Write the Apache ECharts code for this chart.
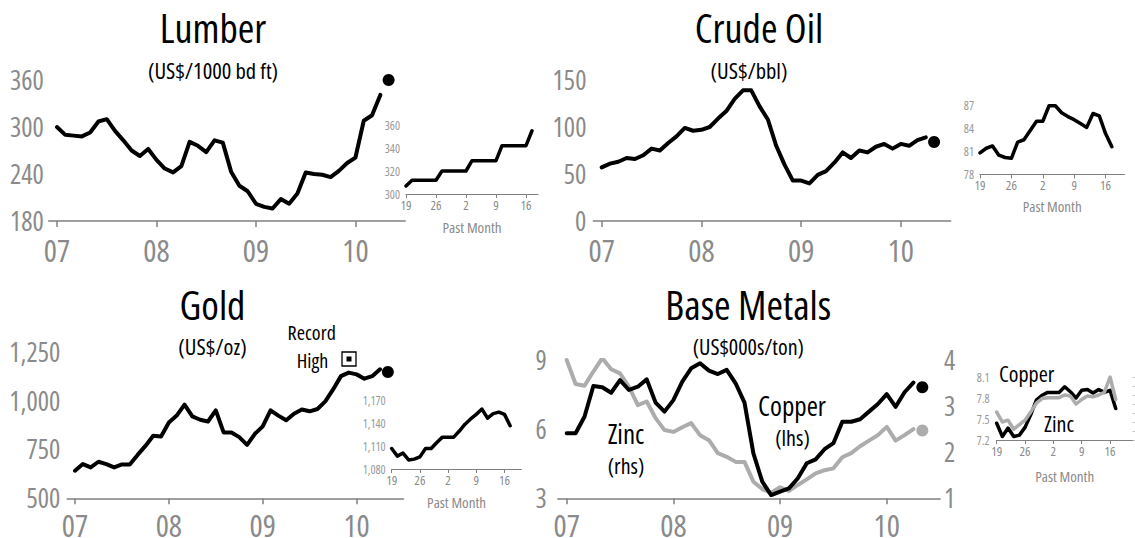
<!DOCTYPE html>
<html><head><meta charset="utf-8">
<script src="https://cdn.jsdelivr.net/npm/echarts@6/dist/echarts.min.js"></script>
<style>html,body{margin:0;padding:0;background:#fff}#c{width:1135px;height:538px}</style>
</head><body><div id="c"></div>
<script>
// ---- pick an installed condensed face ----
function pickCondensed() {
  const c = document.createElement('canvas').getContext('2d');
  const s = 'Lumber Crude Oil 0123456789';
  const fams = ["'Liberation Sans Narrow'", "'Noto Sans'", "'Open Sans'", "Roboto", "'DejaVu Sans'", "'Liberation Sans'"];
  const stretches = ['condensed', 'semi-condensed', 'extra-condensed'];
  let best = null;
  for (const f of fams) {
    c.font = '40px ' + f; const w0 = c.measureText(s).width;
    for (const st of stretches) {
      c.font = st + ' 40px ' + f; const w = c.measureText(s).width;
      const r = w / w0;
      if (r < 0.95) { const score = Math.abs(r - 0.78); if (!best || score < best.score) best = {f: f, st: st, score: score}; }
    }
  }
  return best;
}
const picked = pickCondensed();
const FONT = picked ? picked.f + ", 'Liberation Sans', sans-serif" : "'Liberation Sans', sans-serif";
const STRETCH = picked ? picked.st : 'normal';
const SZ = picked ? 1 : 0.85;
if (picked) { const st = document.createElement('style'); st.textContent = '#c text{font-stretch:' + STRETCH + ' !important}'; document.head.appendChild(st); }

const GRAY = '#8a8a8a';
const ZINC_GRAY = '#acacac';

// ---- categories ----
function monthRange(y, m, n) { const out = []; for (let i = 0; i < n; i++) { const mm = (m - 1 + i) % 12 + 1, yy = y + Math.floor((m - 1 + i) / 12); out.push(yy + '-' + String(mm).padStart(2, '0')); } return out; }
const months = monthRange(2006, 12, 44); // Dec 2006 .. Jul 2010
const pastDays = ['Mar 19','Mar 22','Mar 23','Mar 24','Mar 25','Mar 26','Mar 29','Mar 30','Mar 31','Apr 1','Apr 2',
  'Apr 5','Apr 6','Apr 7','Apr 8','Apr 9','Apr 12','Apr 13','Apr 14','Apr 15','Apr 16','Apr 19','Apr 20','Apr 21','Apr 22'];

// ---- monthly series, Jan 2007 .. Apr 2010 ----
const lumber = [300,290,289,288,293,307,310,295,283,270,263,272, 258,247,242,250,281,276,268,283,280,243,225,218,
  202,198,196,208,202,215,242,240,239,236,244,254, 261,308,315,341];
const crude = [57,61,63,67,66,70,77,75,83,90,99,96, 97,100,109,117,130,139,139,122,108,80,60,43,
  43,40,49,53,62,73,67,75,73,79,82,77, 82,80,86,89];
const gold = [641,675,658,687,675,658,673,673,722,768,820,816, 888,923,979,919,902,893,950,837,837,813,773,830,
  868,950,923,899,933,954,945,957,996,1057,1125,1143, 1134,1112,1125,1160];
const copper = [5.82,5.82,6.54,7.87,7.82,7.58,8.13,7.70,7.84,8.16,7.15,6.76, 7.26,8.06,8.64,8.86,8.54,8.39,8.57,7.99,7.15,4.95,3.72,3.14,
  3.29,3.43,3.87,4.52,4.69,5.13,5.39,6.32,6.32,6.43,6.76,7.09, 7.52,6.97,7.60,8.02];
const zinc = [4.00,3.48,3.44,3.75,4.04,3.80,3.71,3.42,3.02,3.10,2.74,2.48, 2.44,2.54,2.63,2.37,2.26,1.98,1.90,1.79,1.79,1.36,1.20,1.12,
  1.24,1.16,1.29,1.41,1.54,1.61,1.65,1.89,1.98,2.13,2.25,2.37, 2.55,2.25,2.37,2.50];

// latest values (May 2010)
const latestMonth = '2010-05';
const lumberLatest = 360, crudeLatest = 84, goldLatest = 1146, copperLatest = 7.82, zincLatest = 2.47;

// ---- past month (business days from Mar 19) ----
const lumberDaily = [307,312,312,312,312,312,320,320,320,320,320,329,329,329,329,329,342,342,342,342,342,355];
const crudeDaily = [80.8,81.4,81.7,80.5,80.2,80.1,82.2,82.5,83.7,84.9,84.9,86.9,86.9,86.0,85.5,85.1,84.6,84.1,85.9,85.6,83.3,81.6];
const goldDaily = [1107,1097,1101,1092,1093,1096,1107,1107,1115,1122,1122,1122,1130,1139,1146,1152,1159,1147,1153,1155,1152,1137];
const copperDaily = [7.44,7.25,7.37,7.25,7.27,7.38,7.56,7.77,7.84,7.88,7.88,7.88,7.96,7.89,7.80,7.91,7.92,7.87,7.92,7.88,7.91,7.65];
const zincDaily = [2.31,2.20,2.22,2.12,2.17,2.22,2.31,2.41,2.46,2.47,2.47,2.47,2.50,2.49,2.40,2.45,2.49,2.48,2.50,2.53,2.70,2.45];

// ---- tick labels ----
const lumberTicks = {min:180, max:360, interval:60};
const crudeTicks = {min:0, max:150, interval:50};
const goldTicks = {min:500, max:1250, interval:250};
const copperTicks = {min:3, max:9, interval:3};
const zincTicks = {min:1, max:4, interval:1};
const lumberDailyTicks = {min:300, max:360, interval:20};
const crudeDailyTicks = {min:78, max:87, interval:3};
const goldDailyTicks = {min:1080, max:1170, interval:30};
const copperDailyTicks = {min:7.2, max:8.1, interval:0.3};
const zincDailyTicks = {min:2.0, max:2.7, interval:0.1};

// ---- helpers ----
const grids = [
  {left:48.7, top:80, width:356.5, height:141},
  {left:406, top:125, width:132, height:69},
  {left:593.4, top:80, width:357.3, height:141},
  {left:980, top:105, width:144.4, height:69.5},
  {left:67.2, top:351.7, width:336.3, height:146.6},
  {left:391.7, top:400.7, width:129.7, height:68.3},
  {left:557.8, top:360, width:382.3, height:138.3},
  {left:996.7, top:377, width:136, height:63}
].map(g => Object.assign({containLabel:false, outerBoundsMode:'none'}, g));

const fs = n => Math.round(n * SZ * 10) / 10;
const isJan = (i, v) => String(v).endsWith('-01');
function mainX(gi, margin) {
  return {type:'category', gridIndex:gi, data:months, boundaryGap:false,
    axisLine:{show:true, lineStyle:{color:'#808080', width:1.5}},
    axisTick:{show:true, interval:isJan, length:6, lineStyle:{color:'#808080', width:1.5}},
    axisLabel:{interval:isJan, formatter:v => v.slice(2,4), color:GRAY, fontSize:fs(31), fontFamily:FONT, fontWeight:STRETCH, margin:margin},
    splitLine:{show:false}};
}
function insetX(gi, n, gap) {
  return {type:'category', gridIndex:gi, data:pastDays.slice(0,n), boundaryGap:false,
    name:'Past Month', nameLocation:'middle', nameGap:gap, nameTextStyle:{color:GRAY, fontSize:fs(15), fontFamily:FONT, fontWeight:STRETCH},
    axisLine:{show:true, lineStyle:{color:'#808080', width:1.2}},
    axisTick:{show:true, interval:4, length:4, lineStyle:{color:'#808080', width:1}},
    axisLabel:{interval:4, formatter:v => v.split(' ')[1], color:GRAY, fontSize:fs(13), fontFamily:FONT, fontWeight:STRETCH, margin:4},
    splitLine:{show:false}};
}
function yAx(gi, t, o) {
  o = o || {};
  return {type:'value', gridIndex:gi, min:t.min, max:t.max, interval:t.interval, position:o.position || 'left',
    axisLine:{show:false}, axisTick:{show:!!o.ticks, inside:false, length:2, lineStyle:{color:'#bbb', width:1}}, splitLine:{show:false},
    axisLabel:{show:o.labels !== false, color:o.color || GRAY, fontSize:fs(o.size || 26.5), fontFamily:FONT, fontWeight:STRETCH, margin:o.margin == null ? 6 : o.margin,
      formatter:o.fmt || (v => String(v))}};
}
function line(xi, yi, data, color, width) {
  return {type:'line', xAxisIndex:xi, yAxisIndex:yi, data:data, showSymbol:false, symbol:'none', silent:true,
    connectNulls:false, lineStyle:{color:color, width:width, cap:'round', join:'round'}, z:3};
}
function dot(xi, yi, cat, value, color) {
  return {type:'scatter', xAxisIndex:xi, yAxisIndex:yi, data:[[cat, value]], symbolSize:12, silent:true,
    itemStyle:{color:color, opacity:1}, z:4};
}
const comma = v => v.toLocaleString('en-US');
const fix1 = v => v.toFixed(1);
const pad = (arr) => [null].concat(arr);

const text = (x, y, t, size, extra) => ({type:'text', x:x, y:y, silent:true,
  style:Object.assign({text:t, fontSize:fs(size), fontFamily:FONT, fontWeight:STRETCH, fill:'#000', textAlign:'center', textVerticalAlign:'middle'}, extra || {})});

const chart = echarts.init(document.getElementById('c'), null, {renderer:'svg', width:1135, height:538});
chart.setOption({
  animation:false,
  backgroundColor:'#fff',
  grid:grids,
  xAxis:[
    mainX(0, 13), insetX(1, 23, 25),
    mainX(2, 13), insetX(3, 24, 24),
    mainX(4, 11), insetX(5, 24, 25),
    mainX(6, 11), insetX(7, 25, 28)
  ],
  yAxis:[
    yAx(0, lumberTicks, {margin:5}),
    yAx(1, lumberDailyTicks, {size:12, margin:6, color:'#999'}),
    yAx(2, crudeTicks, {margin:7}),
    yAx(3, crudeDailyTicks, {size:12, margin:6, color:'#999'}),
    yAx(4, goldTicks, {margin:7, fmt:comma}),
    yAx(5, goldDailyTicks, {size:12, margin:6, fmt:comma, color:'#999'}),
    yAx(6, copperTicks, {margin:11}),
    yAx(7, copperDailyTicks, {size:12, margin:7, fmt:fix1, color:'#999'}),
    yAx(6, zincTicks, {position:'right', margin:4}),
    yAx(7, zincDailyTicks, {position:'right', labels:false, ticks:true})
  ],
  series:[
    line(0, 0, pad(lumber), '#000', 4),
    dot(0, 0, latestMonth, lumberLatest, '#000'),
    line(1, 1, lumberDaily, '#000', 3.5),
    line(2, 2, pad(crude), '#000', 4),
    dot(2, 2, latestMonth, crudeLatest, '#000'),
    line(3, 3, crudeDaily, '#000', 3.5),
    line(4, 4, pad(gold), '#000', 4),
    dot(4, 4, latestMonth, goldLatest, '#000'),
    line(5, 5, goldDaily, '#000', 3.5),
    line(6, 8, pad(zinc), ZINC_GRAY, 4),
    line(6, 6, pad(copper), '#000', 4),
    dot(6, 6, latestMonth, copperLatest, '#000'),
    dot(6, 8, latestMonth, zincLatest, ZINC_GRAY),
    line(7, 7, copperDaily, '#000', 3.5),
    line(7, 9, zincDaily, ZINC_GRAY, 3.5)
  ],
  graphic:[
    text(213, 27.5, 'Lumber', 40),
    text(213, 70.5, '(US$/1000 bd ft)', 22.5),
    text(759, 27.5, 'Crude Oil', 40),
    text(749, 70.5, '(US$/bbl)', 22.5),
    text(212.5, 304, 'Gold', 40),
    text(212.5, 346, '(US$/oz)', 22.5),
    text(311.7, 332.5, 'Record', 20),
    text(312.5, 360.5, 'High', 20),
    {type:'rect', shape:{x:342, y:352, width:14, height:14}, silent:true, style:{fill:'#fff', stroke:'#000', lineWidth:1.3}},
    {type:'rect', shape:{x:346.5, y:356.5, width:5, height:5}, silent:true, style:{fill:'#000'}},
    text(748.3, 304, 'Base Metals', 40),
    text(748.3, 346, '(US$000s/ton)', 22),
    text(626, 433, 'Zinc', 27),
    text(626, 465, '(rhs)', 22),
    text(792, 405, 'Copper', 27),
    text(792.5, 437, '(lhs)', 22),
    text(1026.7, 373, 'Copper', 22),
    text(1059, 423, 'Zinc', 22)
  ]
});
</script>
</body></html>
